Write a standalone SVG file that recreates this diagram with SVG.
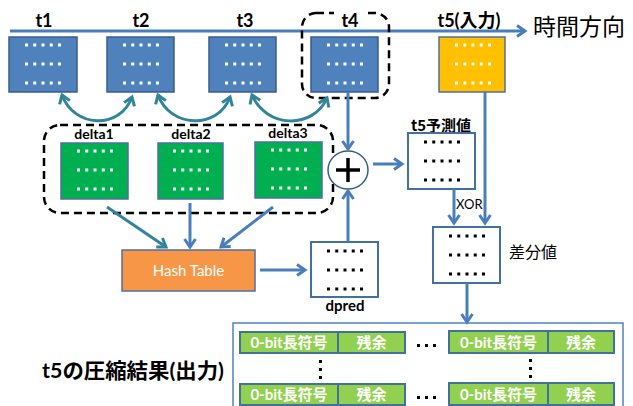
<svg xmlns="http://www.w3.org/2000/svg" width="633" height="406" viewBox="0 0 633 406">
  <style>
    .lbl { font-family: Lato, "Noto Sans CJK JP", sans-serif; font-weight: bold; fill: #000; }
    .jp { font-family: "Noto Sans CJK JP", sans-serif; fill: #000; }
    .blue { fill: #4F81BD; stroke: #385D8A; stroke-width: 1.5; }
    .green { fill: #00B050; stroke: #4F6FA0; stroke-width: 1.5; }
    .white { fill: #fff; stroke: #41719C; stroke-width: 2; }
    .cell { fill: #92D050; stroke: #41719C; stroke-width: 2; }
    .celltxt { font-family: Lato, "Noto Sans CJK JP", sans-serif; font-weight: bold; font-size: 15px; fill: #fff; text-anchor: middle; }
    .dash { fill: none; stroke: #000; stroke-width: 2.5; stroke-dasharray: 8 5; }
    .arr { fill: none; stroke: #4A7EBB; stroke-width: 3; marker-end: url(#ah); }
    .tarr { fill: none; stroke: #31849B; stroke-width: 3; marker-end: url(#aht); }
    .tarr2 { fill: none; stroke: #31849B; stroke-width: 3; marker-start: url(#aht); marker-end: url(#aht); }
  </style>
  <defs>
    <marker id="ah" viewBox="0 0 14 14" refX="11" refY="7" markerWidth="14" markerHeight="14" markerUnits="userSpaceOnUse" orient="auto-start-reverse">
      <path d="M3,1.5 L11,7 L3,12.5" fill="none" stroke="#4A7EBB" stroke-width="3"/>
    </marker>
    <marker id="aht" viewBox="0 0 14 14" refX="11" refY="7" markerWidth="14" markerHeight="14" markerUnits="userSpaceOnUse" orient="auto-start-reverse">
      <path d="M3,1.5 L11,7 L3,12.5" fill="none" stroke="#31849B" stroke-width="3"/>
    </marker>
    <!-- three rows of five dots inside a 67x55 data block -->
    <g id="dotsW" stroke="#fff" stroke-width="3" stroke-dasharray="3 5.25">
      <line x1="16" y1="8" x2="52" y2="8"/>
      <line x1="16" y1="27" x2="52" y2="27"/>
      <line x1="16" y1="46" x2="52" y2="46"/>
    </g>
    <g id="dotsK" stroke="#000" stroke-width="3" stroke-dasharray="3 5.25">
      <line x1="16" y1="9" x2="52" y2="9"/>
      <line x1="16" y1="28" x2="52" y2="28"/>
      <line x1="16" y1="47" x2="52" y2="47"/>
    </g>
  </defs>

  <rect width="633" height="406" fill="#fff"/>

  <!-- time axis -->
  <g id="time-axis">
    <line x1="10" y1="31" x2="525" y2="31" stroke="#4A7EBB" stroke-width="3" marker-end="url(#ah)"/>
    <text x="533" y="35" class="jp" font-size="23">時間方向</text>
  </g>

  <!-- groupings -->
  <g id="group-t4">
    <rect x="302" y="13" width="87" height="85" rx="14" class="dash"/>
    <rect x="334" y="8" width="32" height="20" fill="#fff"/>
  </g>
  <g id="group-deltas">
    <rect x="44" y="125" width="289" height="88" rx="16" class="dash"/>
  </g>

  <!-- frames t1..t5 -->
  <g id="t1">
    <text x="44" y="27" class="lbl" font-size="18" text-anchor="middle">t1</text>
    <rect x="9" y="37" width="68" height="55" class="blue"/>
    <use href="#dotsW" x="9" y="37"/>
  </g>
  <g id="t2">
    <text x="141" y="27" class="lbl" font-size="18" text-anchor="middle">t2</text>
    <rect x="107" y="37" width="67" height="55" class="blue"/>
    <use href="#dotsW" x="107" y="37"/>
  </g>
  <g id="t3">
    <text x="245" y="27" class="lbl" font-size="18" text-anchor="middle">t3</text>
    <rect x="209" y="37" width="67" height="55" class="blue"/>
    <use href="#dotsW" x="209" y="37"/>
  </g>
  <g id="t4">
    <text x="350" y="27" class="lbl" font-size="18" text-anchor="middle">t4</text>
    <rect x="311" y="37" width="67" height="55" class="blue"/>
    <use href="#dotsW" x="311" y="37"/>
  </g>
  <g id="t5">
    <text x="469" y="27" class="lbl" font-size="18" text-anchor="middle">t5(入力)</text>
    <rect x="439" y="37" width="66" height="55" fill="#FFC000" stroke="#4F6FA0" stroke-width="1.5"/>
    <use href="#dotsW" x="439" y="37"/>
  </g>

  <!-- deltas -->
  <g id="delta1">
    <text x="94" y="139" class="lbl" font-size="14" text-anchor="middle">delta1</text>
    <rect x="61" y="143" width="67" height="56" class="green"/>
    <use href="#dotsW" x="61" y="143"/>
  </g>
  <g id="delta2">
    <text x="191" y="139" class="lbl" font-size="14" text-anchor="middle">delta2</text>
    <rect x="158" y="143" width="65" height="56" class="green"/>
    <use href="#dotsW" x="157" y="143"/>
  </g>
  <g id="delta3">
    <text x="288" y="138" class="lbl" font-size="14" text-anchor="middle">delta3</text>
    <rect x="255" y="142" width="67" height="56" class="green"/>
    <use href="#dotsW" x="255" y="142"/>
  </g>

  <!-- hash table -->
  <g id="hash-table">
    <rect x="122" y="250" width="133" height="41" fill="#F79646" stroke="#4F6FA0" stroke-width="1.5"/>
    <text x="188.5" y="276" font-family="Lato, sans-serif" font-size="15" fill="#fff" text-anchor="middle">Hash Table</text>
  </g>

  <!-- dpred -->
  <g id="dpred">
    <rect x="311" y="242" width="67" height="55" class="white"/>
    <use href="#dotsK" x="311" y="242"/>
    <text x="345" y="311" class="lbl" font-size="15" text-anchor="middle">dpred</text>
  </g>

  <!-- adder -->
  <g id="adder">
    <ellipse cx="348" cy="170" rx="20" ry="19" fill="#fff" stroke="#385D8A" stroke-width="1.5"/>
    <line x1="336" y1="170" x2="360" y2="170" stroke="#000" stroke-width="3.5"/>
    <line x1="348" y1="158" x2="348" y2="182" stroke="#000" stroke-width="3.5"/>
  </g>

  <!-- prediction -->
  <g id="t5-pred">
    <text x="441" y="131" class="jp" font-size="15" font-weight="bold" text-anchor="middle">t5予測値</text>
    <rect x="408" y="133" width="67" height="56" class="white"/>
    <use href="#dotsK" x="408" y="133"/>
  </g>

  <!-- difference -->
  <g id="diff">
    <rect x="433" y="227" width="67" height="56" class="white"/>
    <use href="#dotsK" x="433" y="227"/>
    <text x="509" y="258" class="jp" font-size="16">差分値</text>
  </g>

  <!-- compressed output -->
  <g id="output">
    <text x="42" y="378" class="lbl" font-size="21" textLength="182" lengthAdjust="spacingAndGlyphs">t5の圧縮結果(出力)</text>
    <rect x="233" y="323" width="390" height="100" fill="#fff" stroke="#4F81BD" stroke-width="1.5"/>
    <rect x="240" y="332" width="98" height="21" class="cell"/>
    <rect x="338" y="332" width="67" height="21" class="cell"/>
    <rect x="449" y="331" width="99" height="22" class="cell"/>
    <rect x="548" y="331" width="66" height="22" class="cell"/>
    <rect x="240" y="384" width="98" height="21" class="cell"/>
    <rect x="338" y="384" width="67" height="21" class="cell"/>
    <rect x="449" y="383" width="99" height="22" class="cell"/>
    <rect x="548" y="383" width="66" height="22" class="cell"/>
    <text x="289" y="348" class="celltxt">0-bit長符号</text>
    <text x="371.5" y="348" class="celltxt">残余</text>
    <text x="498.5" y="348" class="celltxt">0-bit長符号</text>
    <text x="581" y="348" class="celltxt">残余</text>
    <text x="289" y="400" class="celltxt">0-bit長符号</text>
    <text x="371.5" y="400" class="celltxt">残余</text>
    <text x="498.5" y="400" class="celltxt">0-bit長符号</text>
    <text x="581" y="400" class="celltxt">残余</text>
    <g fill="#000">
      <rect x="417" y="344" width="3" height="3"/>
      <rect x="425" y="344" width="3" height="3"/>
      <rect x="433" y="344" width="3" height="3"/>
      <rect x="417" y="396" width="3" height="3"/>
      <rect x="425" y="396" width="3" height="3"/>
      <rect x="433" y="396" width="3" height="3"/>
      <rect x="319" y="360" width="3" height="3"/>
      <rect x="319" y="368" width="3" height="3"/>
      <rect x="319" y="376" width="3" height="3"/>
      <rect x="529" y="359" width="3" height="3"/>
      <rect x="529" y="367" width="3" height="3"/>
      <rect x="529" y="375" width="3" height="3"/>
    </g>
  </g>

  <!-- connectors -->
  <g id="connectors">
    <path class="tarr2" d="M62,95 C74,128 120,130 132,97"/>
    <path class="tarr2" d="M158,95 C170,128 218,130 230,97"/>
    <path class="tarr2" d="M252,95 C266,128 313,130 327,98"/>
    <path class="tarr" d="M107,207 L166,247"/>
    <path class="arr" d="M190,203 L190,247"/>
    <path class="arr" d="M273,207 L221,247"/>
    <path class="arr" d="M260,270 L305,270"/>
    <path class="arr" d="M348,92 L348,149"/>
    <path class="arr" d="M348,242 L348,191"/>
    <path class="arr" d="M373,164 L402,164"/>
    <path class="arr" d="M454,189 L454,223"/>
    <path class="arr" d="M485,92 L485,223"/>
    <path class="arr" d="M467,283 L467,322"/>
    <text x="456" y="209" font-family="Lato, sans-serif" font-size="13" fill="#000">XOR</text>
  </g>
</svg>
